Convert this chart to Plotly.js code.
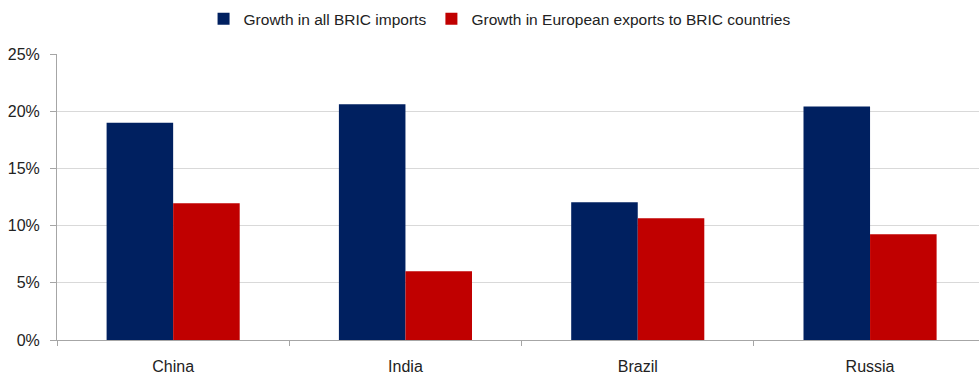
<!DOCTYPE html>
<html>
<head>
<meta charset="utf-8">
<script src="https://cdn.plot.ly/plotly-3.0.1.min.js"></script>
<style>html,body{margin:0;padding:0;background:#fff;}#chart{width:979px;height:376px;}</style>
</head>
<body>
<div id="chart"></div>
<script>
const categories = ["China", "India", "Brazil", "Russia"];
const seriesNames = ["Growth in all BRIC imports", "Growth in European exports to BRIC countries"];
const importsGrowth = [19.0, 20.6, 12.05, 20.4];
const exportsGrowth = [11.95, 6.0, 10.65, 9.25];
const yTicks = [0, 5, 10, 15, 20, 25];

const traces = [
  {type: "bar", name: seriesNames[0], x: categories, y: importsGrowth, marker: {color: "#002060"}},
  {type: "bar", name: seriesNames[1], x: categories, y: exportsGrowth, marker: {color: "#C00000"}}
];

const layout = {
  width: 979, height: 376,
  margin: {l: 57, r: 0, t: 54, b: 36, pad: 0},
  paper_bgcolor: "#fff", plot_bgcolor: "#fff",
  font: {family: "Liberation Sans, Arial, sans-serif", size: 16, color: "#222"},
  barmode: "group", bargap: 0.427, bargroupgap: 0,
  showlegend: true,
  legend: {orientation: "h", x: 0.48, xanchor: "center", y: 1.122, yanchor: "middle",
           font: {size: 15.5, color: "#222"}, itemwidth: 30, traceorder: "normal"},
  xaxis: {type: "category", range: [-0.5, 3.469], showgrid: false, showline: true,
          linecolor: "#a6a6a6", linewidth: 1, ticks: "outside", tickson: "boundaries",
          ticklen: 5, tickcolor: "#a6a6a6", tickfont: {size: 16}, ticklabelstandoff: 12,
          automargin: false, fixedrange: true},
  yaxis: {range: [0, 25], tickvals: yTicks, ticktext: yTicks.map(v => v + "%"),
          showgrid: true, gridcolor: "#d9d9d9", showline: true, linecolor: "#a6a6a6",
          linewidth: 1, ticks: "outside", ticklen: 6, tickcolor: "#a6a6a6",
          tickfont: {size: 16}, ticklabelstandoff: 7, automargin: false, zeroline: false}
};

Plotly.newPlot("chart", traces, layout, {displayModeBar: false, staticPlot: true});
</script>
</body>
</html>
